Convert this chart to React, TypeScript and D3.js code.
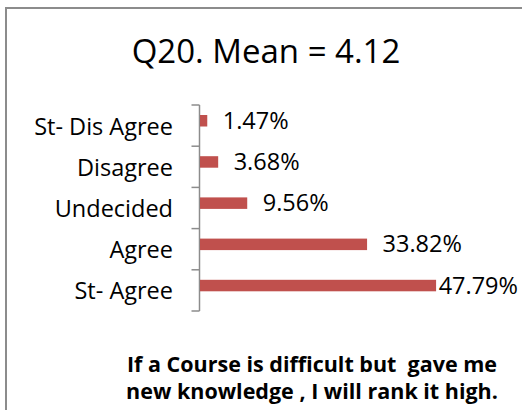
import React from "react";
import * as d3 from "d3";

const categories = ["St- Dis Agree", "Disagree", "Undecided", "Agree", "St- Agree"];
const values = [1.47, 3.68, 9.56, 33.82, 47.79];
const valueLabels = ["1.47%", "3.68%", "9.56%", "33.82%", "47.79%"];
const title = "Q20. Mean = 4.12";
const footerLines = ["If a Course is difficult but  gave me", "new knowledge , I will rank it high."];

const W = 522;
const H = 410;
const FONT = "'Open Sans', 'Liberation Sans', sans-serif";

export default function App() {
  const axisX = 199.5;
  const top = 105;
  const bottom = 311;
  const x = d3.scaleLinear().domain([0, 60]).range([axisX, axisX + 60 * 4.94]);
  const y = d3.scaleBand<string>().domain(categories).range([top, bottom]).paddingInner(0).paddingOuter(0);
  const bw = y.bandwidth();
  const barOffset = 10;
  const barH = 11.5;
  const rightLimit = 518;
  const labelGap = 16;
  const approxLabelW = 80;
  const tickPositions = d3.range(categories.length + 1).map((i) => top + i * bw);

  return (
    <svg width={W} height={H} style={{ position: "absolute", left: 0, top: 0, background: "#fff" }}>
      <rect x={0} y={0} width={W} height={H} fill="#fff" />
      <rect x={6} y={8} width={W + 20} height={H + 20} fill="#fff" stroke="#8c8c8c" strokeWidth={2} />
      <text x={266} y={63} textAnchor="middle" fontFamily={FONT} fontSize={33} fill="#000">
        {title}
      </text>
      {/* axis */}
      <line x1={axisX} x2={axisX} y1={top} y2={bottom} stroke="#8c8c8c" strokeWidth={1.5} />
      {tickPositions.map((t, i) => (
        <line key={i} x1={axisX - 8} x2={axisX} y1={t} y2={t} stroke="#8c8c8c" strokeWidth={1.5} />
      ))}
      {categories.map((c, i) => {
        const by = (y(c) as number) + barOffset;
        const end = x(values[i]);
        const fits = end + labelGap + approxLabelW <= rightLimit;
        return (
          <g key={c}>
            <text
              x={173}
              y={(y(c) as number) + bw / 2 + 9}
              textAnchor="end"
              fontFamily={FONT}
              fontSize={23.5}
              fill="#000"
            >
              {c}
            </text>
            <rect x={x(0) + 0.5} y={by} width={end - x(0)} height={barH} fill="#C0504D" />
            <text
              x={fits ? end + labelGap : rightLimit}
              y={by + barH / 2 + 8}
              textAnchor={fits ? "start" : "end"}
              fontFamily={FONT}
              fontSize={23.5}
              fill="#000"
            >
              {valueLabels[i]}
            </text>
          </g>
        );
      })}
      {footerLines.map((l, i) => (
        <text
          key={i}
          x={312}
          y={372 + i * 27}
          textAnchor="middle"
          fontFamily={FONT}
          fontSize={21.5}
          fontWeight="bold"
          fill="#000"
          style={{ whiteSpace: "pre" }}
        >
          {l}
        </text>
      ))}
    </svg>
  );
}
